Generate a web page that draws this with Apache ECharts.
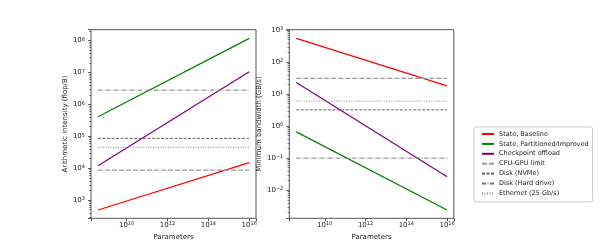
<!DOCTYPE html>
<html><head><meta charset="utf-8">
<script src="https://cdn.jsdelivr.net/npm/echarts@6/dist/echarts.min.js"></script>
<style>html,body{margin:0;padding:0;background:#fff}#c{width:605px;height:250px}</style>
</head><body><div id="c"></div>
<script>
// ---- data ----
const params = [4e8, 1e16];                       // x: number of parameters
// left panel: arithmetic intensity (flop/B)
const intensityBaseline = [490, 1.5e4];
const intensityPartitioned = [4.1e5, 1.17e8];
const intensityCheckpoint = [1.2e4, 1.05e7];
const intensityLimits = { cpuGpu: 8.7e3, nvme: 8.6e4, hardDrive: 2.8e6, ethernet: 4.5e4 };
// right panel: minimum bandwidth (GB/s)
const bandwidthBaseline = [550, 18];
const bandwidthPartitioned = [0.66, 0.0024];
const bandwidthCheckpoint = [23, 0.026];
const bandwidthLimits = { cpuGpu: 31, nvme: 3.2, hardDrive: 0.1, ethernet: 6.0 };
const seriesNames = ['State, Baseline', 'State, Partitioned/Improved', 'Checkpoint offload',
  'CPU-GPU limit', 'Disk (NVMe)', 'Disk (Hard drive)', 'Ethernet (25 Gb/s)'];

// ---- styling ----
const FONT = 'DejaVu Sans';
function pow10Label(v) {
  const e = Math.log10(v), r = Math.round(e);
  if (Math.abs(e - r) > 1e-6) return '';
  return '{b|10}{s|' + String(r).replace('-', '\u2212') + '}';
}
const labelRich = {
  b: { fontFamily: FONT, fontSize: 7, lineHeight: 7, color: '#222', verticalAlign: 'bottom', padding: [2.5, 0, 0, 0] },
  s: { fontFamily: FONT, fontSize: 5, lineHeight: 5, color: '#222', verticalAlign: 'top' }
};
const curveStyles = [
  { color: '#ff0000', width: 1.2, type: 'solid' },
  { color: '#008000', width: 1.2, type: 'solid' },
  { color: '#800080', width: 1.2, type: 'solid' }
];
const limitStyles = {
  cpuGpu:    { color: '#999999', width: 1.4, type: [5, 2] },
  nvme:      { color: '#666666', width: 1, type: [3, 1.5] },
  hardDrive: { color: '#777777', width: 1, type: [4, 1.5, 1, 1.5] },
  ethernet:  { color: '#888888', width: 1, type: [1, 1.5] }
};
const limitKeys = ['cpuGpu', 'nvme', 'hardDrive', 'ethernet'];

function xAxisDef(gi) {
  return {
    type: 'log', logBase: 100, gridIndex: gi,
    min: Math.pow(10, 8.26), max: Math.pow(10, 16.33), splitNumber: 5,
    name: 'Parameters', nameLocation: 'middle', nameGap: 14,
    nameTextStyle: { fontFamily: FONT, fontSize: 7, color: '#222' },
    axisLine: { show: false },
    axisTick: { show: true, length: 3, lineStyle: { color: '#333', width: 0.8 } },
    axisLabel: { fontFamily: FONT, fontSize: 7, color: '#222', margin: 3, formatter: pow10Label, rich: labelRich },
    splitLine: { show: false }
  };
}
function yAxisDef(gi, lo, hi, name, gap) {
  return {
    type: 'log', logBase: 10, gridIndex: gi,
    min: Math.pow(10, lo), max: Math.pow(10, hi), splitNumber: 8,
    name: name, nameLocation: 'middle', nameGap: gap,
    nameTextStyle: { fontFamily: FONT, fontSize: 7, color: '#222' },
    axisLine: { show: false },
    axisTick: { show: true, length: 3, lineStyle: { color: '#333', width: 0.8 } },
    minorTick: { show: true, splitNumber: 9, length: 1.8, lineStyle: { color: '#333', width: 0.6 } },
    axisLabel: { fontFamily: FONT, fontSize: 7, color: '#222', margin: 6, formatter: pow10Label, rich: labelRich },
    splitLine: { show: false }, minorSplitLine: { show: false }
  };
}
function curve(name, gi, ys, style) {
  return {
    type: 'line', name: name, xAxisIndex: gi, yAxisIndex: gi, symbol: 'none',
    silent: true, animation: false,
    data: params.map((p, i) => [p, ys[i]]),
    lineStyle: style, itemStyle: { color: style.color }
  };
}
function limit(name, gi, v, style) {
  return curve(name, gi, params.map(() => v), style);
}

const series = [];
[[intensityBaseline, bandwidthBaseline], [intensityPartitioned, bandwidthPartitioned],
 [intensityCheckpoint, bandwidthCheckpoint]].forEach((pair, k) => {
  series.push(curve(seriesNames[k], 0, pair[0], curveStyles[k]));
  series.push(curve(seriesNames[k], 1, pair[1], curveStyles[k]));
});
limitKeys.forEach((key, k) => {
  series.push(limit(seriesNames[3 + k], 0, intensityLimits[key], limitStyles[key]));
  series.push(limit(seriesNames[3 + k], 1, bandwidthLimits[key], limitStyles[key]));
});

const chart = echarts.init(document.getElementById('c'), null, { renderer: 'canvas' });
chart.setOption({
  animation: false,
  backgroundColor: '#fff',
  textStyle: { fontFamily: FONT },
  grid: [
    { left: 91, top: 29.7, width: 165, height: 188.6, show: true, borderColor: '#555', borderWidth: 1, backgroundColor: 'transparent' },
    { left: 289.3, top: 29.7, width: 164.5, height: 188.6, show: true, borderColor: '#555', borderWidth: 1, backgroundColor: 'transparent' }
  ],
  xAxis: [xAxisDef(0), xAxisDef(1)],
  yAxis: [
    yAxisDef(0, 2.43, 8.34, 'Arithmetic intensity (flop/B)', 20),
    yAxisDef(1, -2.88, 3.01, 'Minimum bandwidth (GB/s)', 22)
  ],
  legend: {
    data: seriesNames, orient: 'vertical', left: 474, top: 127,
    itemWidth: 12, itemHeight: 7, itemGap: 2.9, padding: [3.5, 4, 5, 7],
    itemStyle: { opacity: 0 },
    textStyle: { fontFamily: FONT, fontSize: 6.5, color: '#222' },
    borderColor: '#cccccc', borderWidth: 1, borderRadius: 2, backgroundColor: '#fff',
    selectedMode: false
  },
  series: series
});
</script></body></html>
